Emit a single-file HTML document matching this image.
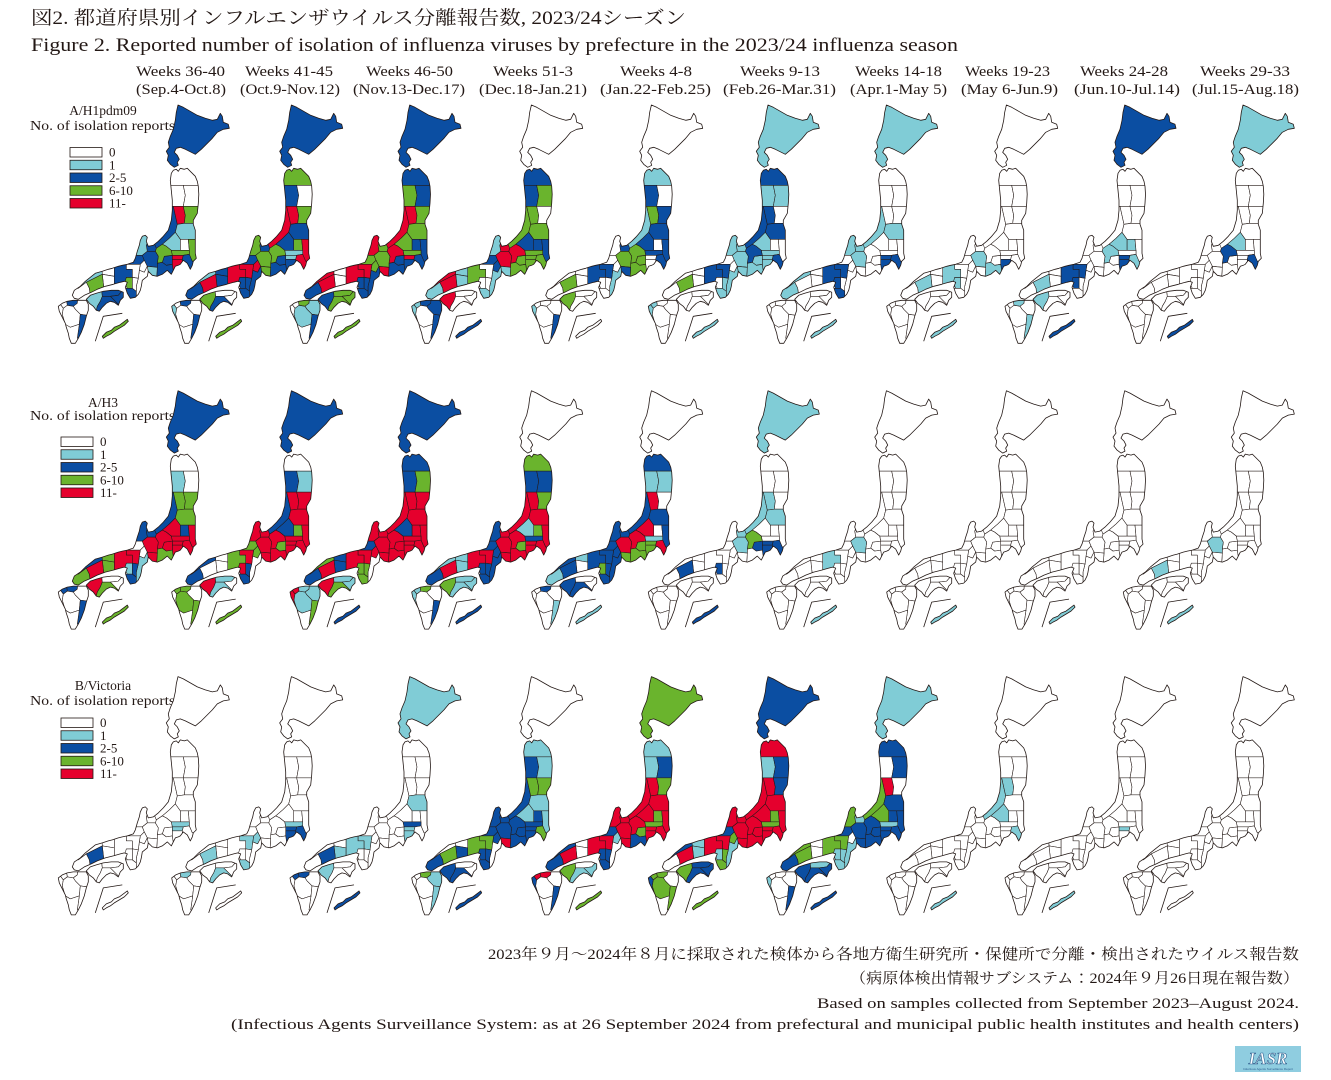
<!DOCTYPE html>
<html><head><meta charset="utf-8">
<style>
html,body{margin:0;padding:0;background:#fff;width:1331px;height:1080px;overflow:hidden}
svg{display:block}
.c{stroke:#231815;stroke-width:0.55;stroke-linejoin:round}
.o{fill:none;stroke:#231815;stroke-width:0.8;stroke-linejoin:round}
.t{font-family:"Liberation Serif","Noto Serif CJK JP",serif;fill:#231815}
.j{font-family:"Liberation Serif","Noto Serif CJK JP","Noto Serif CJK SC",serif;fill:#231815}
</style></head><body>
<svg id="s" width="1331" height="1080" viewBox="0 0 1331 1080" xmlns="http://www.w3.org/2000/svg">
<rect width="1331" height="1080" fill="#fff"/>
<defs id="d"></defs>
<text class="j" x="31" y="24" font-size="19" textLength="655" lengthAdjust="spacingAndGlyphs">図2. 都道府県別インフルエンザウイルス分離報告数, 2023/24シーズン</text>
<text class="t" x="31" y="51" font-size="19" textLength="927" lengthAdjust="spacingAndGlyphs">Figure 2. Reported number of isolation of influenza viruses by prefecture in the 2023/24 influenza season</text>
<g class="t" font-size="15">
<text x="136" y="76" textLength="89" lengthAdjust="spacingAndGlyphs">Weeks 36-40</text>
<text x="245" y="76" textLength="88" lengthAdjust="spacingAndGlyphs">Weeks 41-45</text>
<text x="366" y="76" textLength="87" lengthAdjust="spacingAndGlyphs">Weeks 46-50</text>
<text x="493" y="76" textLength="80" lengthAdjust="spacingAndGlyphs">Weeks 51-3</text>
<text x="620" y="76" textLength="72" lengthAdjust="spacingAndGlyphs">Weeks 4-8</text>
<text x="740" y="76" textLength="80" lengthAdjust="spacingAndGlyphs">Weeks 9-13</text>
<text x="855" y="76" textLength="87" lengthAdjust="spacingAndGlyphs">Weeks 14-18</text>
<text x="965" y="76" textLength="85" lengthAdjust="spacingAndGlyphs">Weeks 19-23</text>
<text x="1080" y="76" textLength="88" lengthAdjust="spacingAndGlyphs">Weeks 24-28</text>
<text x="1200" y="76" textLength="90" lengthAdjust="spacingAndGlyphs">Weeks 29-33</text>
<text x="136" y="94" textLength="90" lengthAdjust="spacingAndGlyphs">(Sep.4-Oct.8)</text>
<text x="240" y="94" textLength="100" lengthAdjust="spacingAndGlyphs">(Oct.9-Nov.12)</text>
<text x="353" y="94" textLength="112" lengthAdjust="spacingAndGlyphs">(Nov.13-Dec.17)</text>
<text x="479" y="94" textLength="108" lengthAdjust="spacingAndGlyphs">(Dec.18-Jan.21)</text>
<text x="600" y="94" textLength="111" lengthAdjust="spacingAndGlyphs">(Jan.22-Feb.25)</text>
<text x="723" y="94" textLength="113" lengthAdjust="spacingAndGlyphs">(Feb.26-Mar.31)</text>
<text x="850" y="94" textLength="97" lengthAdjust="spacingAndGlyphs">(Apr.1-May 5)</text>
<text x="961" y="94" textLength="97" lengthAdjust="spacingAndGlyphs">(May 6-Jun.9)</text>
<text x="1074" y="94" textLength="106" lengthAdjust="spacingAndGlyphs">(Jun.10-Jul.14)</text>
<text x="1192" y="94" textLength="107" lengthAdjust="spacingAndGlyphs">(Jul.15-Aug.18)</text>
</g>
<g class="t" font-size="13.5">
<text x="103" y="115" text-anchor="middle">A/H1pdm09</text>
<text x="30" y="130" textLength="145" lengthAdjust="spacingAndGlyphs">No. of isolation reports</text>
<text x="103" y="407" text-anchor="middle">A/H3</text>
<text x="30" y="420" textLength="145" lengthAdjust="spacingAndGlyphs">No. of isolation reports</text>
<text x="103" y="690" text-anchor="middle">B/Victoria</text>
<text x="30" y="705" textLength="145" lengthAdjust="spacingAndGlyphs">No. of isolation reports</text>
</g>
<g id="leg"></g>
<g id="maps"></g>
<g class="j" font-size="15">
<text x="488" y="959" textLength="811" lengthAdjust="spacingAndGlyphs">2023年９月～2024年８月に採取された検体から各地方衛生研究所・保健所で分離・検出されたウイルス報告数</text>
<text x="850" y="983" textLength="449" lengthAdjust="spacingAndGlyphs">（病原体検出情報サブシステム：2024年９月26日現在報告数）</text>
</g>
<g class="t" font-size="15">
<text x="817" y="1008" textLength="482" lengthAdjust="spacingAndGlyphs">Based on samples collected from September 2023–August 2024.</text>
<text x="231" y="1029" textLength="1068" lengthAdjust="spacingAndGlyphs">(Infectious Agents Surveillance System: as at 26 September 2024 from prefectural and municipal public health institutes and health centers)</text>
</g>
<rect x="1235" y="1046" width="66" height="26" fill="#8fcde0"/>
<text x="1268" y="1064" text-anchor="middle" font-family="Liberation Serif,serif" font-style="italic" font-weight="bold" font-size="17" fill="#ffffff" stroke="#2d5f8f" stroke-width="0.6">IASR</text>
<text x="1268" y="1070" text-anchor="middle" font-family="Liberation Sans,sans-serif" font-size="3" fill="#2d5f8f">Infectious Agents Surveillance Report</text>
</svg>
<script>
(function(){
var COL=['#ffffff','#80ccd6','#0b4ea2','#6ab42d','#e5002d'];
var HOKP="121.7,6.7 127,9 134,13 141,17 149,20 156,22 161,21 164,15 166,18 167,24 172,26 173,30 167,31 161,34 156,40 150,46 145,51 139,56 135,54 129,51 124,49 120,50 118,54 121,57 123,61 121,64 122,67 118,69 114,66 111,62 112,57 110,53 113,49 112,44 114,38 117,31 119,22 120,14";
var HON="115,75 117,72 120,71 122,73 124,70 128,71 131,70 134,73 139,78 141,83 142,88 142.5,96 142,105 141,115 137,122 137,126 139,132 139,140 139,148 139,155 140,160 137,163 136,167 134,171 131,165 127,162 124,166 122,167 119,168 117,172 115,176 113,174 111,172 106,176 101,178 96,177 92,173 91,178 86,182 85,188 84,192 82,196 79,199 74,200 71,195 69,189 71,184 68,183 64,184 57,186 49,188 41,191 35,194 28,197 22,201 18,200 16,197 18,192 24,188 29,183 34,179 39,175 46,173 52,171 56,170 62,168 66,167 71,166 74,165 77,164 79,160 81,153 83,147 84,142 86,138 89,137 91,139 90,143 92,148 97,147 102,143 107,138 112,132 115,122 116,112 116,102 115,92 114,82";
var SHK="30,201 34,197 40,195 47,193 55,192 62,192 67,194 67,199 64,202 62,207 58,204 54,203 50,205 46,209 43,213 40,212 37,208 33,205";
var KYU="2,208 6,205 11,203 17,202 24,202 30,202 32,206 32,212 30,218 28,226 25,234 22,240 19,245 15,245 13,240 12,235 10,229 9,225 7,221 5,217 3,213";
var OKI="46,238 50,234 55,232 58,229 63,227 67,224 71,221 72,223 68,227 63,230 58,233 54,236 50,238 47,240";
var HC={
AOM:"100,60 150,60 150,87 100,87",
AKI:"100,87 127,87 129,97 127,108 100,108",
IWA:"127,87 150,87 150,108 127,108 129,97",
NII:"100,108 117,108 119,117 121,126 119,134 113,140 106,146 100,150 95,145 90,140",
YAM:"117,108 127,108 129,117 128,125 121,126 119,117",
MIY:"127,108 150,108 150,125 128,125 129,117",
FUK:"121,126 128,125 150,125 150,141 132,141 124,141 119,134",
TOC:"124,141 132,141 133,152 124,152",
IBA:"132,141 150,141 150,162 136,163 133,156 133,152",
GUN:"113,140 119,134 124,141 124,152 115,152 110,148 106,146",
SAI:"115,152 124,152 133,152 133,156 127,157 116,157",
TOK:"116,157 127,157 126,161 116,161",
CHI:"127,157 133,156 136,163 150,162 150,180 126,180 126,161",
KAN:"116,161 126,161 126,180 118,180 116,166",
YMN:"108,158 116,157 116,166 110,167 106,164",
NAG:"100,150 106,146 110,148 115,152 116,157 108,158 106,164 101,165 102,158 99,153",
SHI:"101,165 106,164 110,167 116,166 118,180 100,185 101,169",
TOY:"90,147 92,142 96,140 100,150 99,153 91,153",
ISH:"78,130 93,130 92,142 90,147 91,153 86,157 78,157",
FKI:"70,157 86,157 88,162 84,166 70,166",
GIF:"91,153 99,153 102,158 101,165 101,169 91,168 88,162 86,157",
AIC:"91,168 101,169 100,185 90,185 92,174",
SHG:"84,166 88,162 91,168 88,174 83,172",
MIE:"83,172 88,174 91,168 92,174 90,185 92,205 80,205 80,188 82,180",
KYO:"70,166 84,166 83,172 82,180 76,179 76,171 70,171",
NAR:"76,179 82,180 80,188 80,193 76,190",
OSA:"70,179 76,179 76,190 71,190 68,184",
WAK:"62,190 71,190 76,190 80,193 80,205 62,205",
HYO:"58,160 70,160 70,171 76,171 76,179 70,179 68,186 58,192",
TOT:"45,160 58,160 58,178 46,176",
OKA:"46,176 58,178 58,195 48,195 47,185",
SHM:"10,160 45,160 46,176 38,180 30,184 22,190 10,190",
HIR:"38,180 46,176 47,185 48,195 34,198 33,190 30,184",
YMG:"5,190 22,190 30,184 33,190 34,198 5,205"
};
var SC={
EHI:"25,188 45,188 46,198 44,203 41,208 38,220 25,220",
KAG:"45,188 70,188 62,197 54,198 46,198",
TOKU:"54,198 62,197 70,188 75,188 75,215 62,206 58,202",
KOC:"46,198 54,198 58,202 62,206 75,215 30,225 38,220 41,208 44,203"
};
var KC={
FUO:"9,195 22,195 21,205 17,208 11,207",
OIT:"22,195 38,195 38,218 24,216 19,211 17,208 21,205",
SAG:"4,195 9,195 11,207 7,210 4,206",
NGS:"-5,195 4,195 4,206 7,210 6,216 9,226 -5,226",
KUM:"7,210 11,207 17,208 19,211 24,216 23,226 14,229 9,226 6,216",
MYZ:"24,216 38,218 38,250 21,240 23,226",
KGS:"-5,226 9,226 14,229 23,226 21,240 38,250 -5,250"
};
var D=[
["HOK2 MIY3 YAM4 FUK1 NII2 IBA3 GUN1 SAI3 CHI2 TOK4 KAN4 TOY2 ISH1 FKI2 YMN2 NAG3 GIF2 SHI2 AIC1 OSA3 HYO2 WAK2 SHM1 HIR3 TOKU2 KAG2 EHI1 KOC2 FUO2 MYZ2 OKI3",
"HOK2 AOM3 AKI2 MIY3 YAM4 FUK2 NII4 IBA4 TOC3 GUN2 SAI1 CHI4 TOK1 KAN2 TOY2 ISH3 FKI2 YMN2 NAG3 GIF3 SHI2 AIC3 MIE2 SHG4 KYO4 OSA2 HYO4 NAR2 WAK2 TOT2 SHM1 OKA2 HIR4 YMG2 EHI3 KOC2 FUO2 NGS1 MYZ2 OKI3",
"HOK2 AOM2 IWA2 AKI3 MIY3 YAM4 FUK3 NII4 IBA2 TOC2 GUN3 SAI3 CHI2 TOK4 KAN2 TOY3 ISH4 FKI3 YMN2 NAG4 GIF3 SHI2 AIC4 MIE2 SHG3 KYO4 OSA2 HYO4 NAR2 WAK2 SHM4 HIR4 YMG2 TOKU3 KAG3 EHI2 KOC3 FUO3 KUM1 OIT1 MYZ2 OKI3",
"AOM2 IWA3 AKI2 YAM3 FUK3 NII3 IBA2 TOC2 GUN2 SAI3 CHI3 TOK3 KAN3 TOY4 ISH1 FKI2 YMN3 NAG4 GIF4 SHI3 AIC1 MIE1 SHG2 HYO3 WAK1 TOT1 SHM4 OKA1 HIR4 YMG1 EHI4 FUO2 SAG1 NGS1 OIT2 MYZ2 OKI2",
"AOM1 AKI2 MIY2 YAM3 FUK2 NII1 IBA2 GUN2 SAI2 CHI2 TOY2 YMN3 NAG3 GIF3 SHI3 AIC2 MIE1 KYO2 HYO2 HIR3 EHI3 NGS1 MYZ2",
"HOK1 AOM2 IWA1 AKI1 YAM2 FUK2 NII2 GUN1 SAI1 CHI2 TOK1 KAN1 TOY1 ISH1 YMN1 NAG2 GIF1 SHI1 AIC1 MIE1 KYO2 HYO2 NAR1 WAK1 HIR3 SAG1 NGS1 OKI1",
"HOK1 NII1 FUK1 CHI2 TOK2 KAN2 TOY1 ISH1 GIF1 KYO2 OSA2 HYO2 WAK2 YMG1 SHM1 OKI1",
"GIF1 SHI1 KAN2 HYO1 OSA1 HIR1 OKI1",
"HOK2 NAG1 GUN1 TOC1 KAN2 TOK2 CHI1 HYO2 KYO2 OSA2 HIR1 EHI1 FUO1 MYZ1 OKI2",
"HOK1 NAG2 GUN1 CHI2 OKI2"],
["HOK2 AKI1 MIY3 YAM3 FUK3 NII2 IBA4 TOC2 GUN4 SAI4 CHI4 TOK4 KAN4 TOY2 ISH2 YMN4 NAG4 GIF4 SHI3 AIC4 MIE1 KYO4 OSA1 HYO4 NAR2 WAK2 TOT3 SHM2 OKA3 HIR4 YMG3 EHI4 KOC3 FUO2 SAG2 MYZ2 OKI3",
"HOK2 IWA1 AKI2 MIY4 YAM4 FUK4 NII2 IBA4 TOC3 GUN2 SAI4 CHI4 TOK4 KAN4 TOY4 ISH4 FKI3 YMN3 NAG4 GIF4 SHI4 AIC4 SHG3 KYO4 OSA4 HYO3 NAR2 WAK2 SHM2 YMG2 KAG1 EHI4 KOC1 FUO3 SAG3 KUM3 MYZ3 OKI3",
"HOK2 AOM2 IWA3 AKI2 MIY4 YAM4 FUK4 NII4 IBA4 TOC4 GUN2 SAI4 CHI4 TOK4 KAN4 TOY4 ISH4 FKI2 YMN4 NAG4 GIF4 SHI4 AIC4 SHG4 KYO4 OSA3 HYO4 NAR3 WAK3 TOT2 SHM3 OKA2 HIR4 YMG2 TOKU1 KAG1 EHI4 KOC3 FUO1 SAG4 NGS4 KUM1 OIT1 MYZ3 OKI2",
"AOM3 IWA2 AKI2 MIY3 YAM4 FUK4 NII4 IBA4 TOC3 GUN1 SAI2 CHI4 TOK4 KAN4 TOY4 ISH2 FKI2 YMN3 NAG4 GIF4 SHI4 AIC4 MIE2 SHG2 KYO4 OSA2 HYO4 NAR2 WAK2 TOT1 SHM1 OKA1 HIR4 YMG2 TOKU1 KAG1 EHI3 KOC1 FUO3 SAG1 NGS1 MYZ2 OKI2",
"AOM2 IWA1 AKI1 YAM4 FUK2 NII2 IBA2 GUN4 SAI1 CHI4 TOK3 KAN3 TOY2 ISH2 FKI2 YMN3 NAG4 GIF4 SHI3 AIC3 MIE2 SHG2 KYO2 OSA3 HYO2 NAR2 WAK2 TOT1 SHM2 HIR2 YMG1 EHI2 KOC2 FUO2 MYZ1 OKI1",
"HOK1 YAM1 FUK1 NII1 NAG3 YMN2 TOK2 KAN2 CHI2 GIF1 TOY1 HIR2 OSA2 OKI2",
"GIF1 HYO1 OKI1",
"OKI1",
"OKI1",
"GIF1 HIR1 OKI1"],
["TOK1 SAI1 HIR2",
"SAI1 TOK2 KAN2 CHI2 KYO1 SHG1 WAK1 HIR1 KOC1 FUO1",
"HOK1 FUK1 SAI2 TOK1 KAN1 HYO1 KYO1 HIR2 OKA1 EHI1 FUO2 SAG2 OKI2",
"AOM1 IWA1 AKI2 MIY3 YAM3 FUK1 NII2 IBA1 TOC2 GUN1 SAI2 CHI3 TOK2 KAN2 TOY2 ISH2 FKI2 YMN2 NAG2 GIF2 SHI2 AIC4 SHG2 KYO3 OSA2 HYO3 NAR2 WAK2 OKA2 HIR3 YMG2 EHI2 KOC2 FUO3 OIT1 MYZ1 OKI2",
"HOK3 AOM1 IWA2 AKI1 MIY3 YAM4 FUK4 NII4 IBA4 TOC3 GUN4 SAI3 CHI4 TOK4 KAN4 TOY4 ISH4 FKI2 YMN3 NAG4 GIF4 SHI2 AIC4 SHG1 KYO4 OSA2 HYO4 NAR2 WAK2 SHM2 HIR4 YMG2 TOKU1 EHI3 KOC1 FUO4 SAG4 NGS2 MYZ2 OKI3",
"HOK2 AOM4 IWA2 AKI1 MIY2 YAM4 FUK4 NII4 IBA4 TOC3 GUN4 SAI3 CHI4 TOK4 KAN4 TOY4 ISH4 FKI2 YMN4 NAG4 GIF4 SHI4 AIC4 MIE1 SHG3 KYO4 OSA1 HYO4 NAR3 WAK3 TOT1 SHM2 OKA1 HIR4 TOKU2 KAG2 EHI3 KOC2 FUO3 SAG3 NGS2 KUM3 MYZ3 OKI3",
"HOK1 AOM2 IWA2 YAM4 FUK2 NII3 IBA2 TOC2 GUN3 SAI1 CHI2 TOK2 KAN2 TOY1 ISH3 FKI2 YMN2 NAG2 GIF2 SHI2 AIC2 MIE1 KYO3 OSA1 HYO3 NAR1 WAK1 SHM3 HIR3 YMG2 TOKU2 KAG1 EHI2 KOC2 NGS1 MYZ2 OKI2",
"YAM1 NII1 GUN1 CHI1 OKI1",
"TOK1 OKI1",
""]
];
var OX=[56.3,169.7,288,409.7,529.7,646.3,764.7,884.7,1003,1121.3];
var OY=[98.3,384.1,669.9];
var defs='<clipPath id="cH"><polygon points="'+HON+'"/></clipPath><clipPath id="cS"><polygon points="'+SHK+'"/></clipPath><clipPath id="cK"><polygon points="'+KYU+'"/></clipPath>';
document.getElementById('d').innerHTML=defs;
function parse(s){var m={};s.trim().split(/\s+/).forEach(function(t){if(t){m[t.replace(/[0-9]/g,'')]=+t.replace(/[^0-9]/g,'');}});return m;}
function cells(obj,m){var o='';for(var k in obj){o+='<polygon class="c" points="'+obj[k]+'" fill="'+COL[m[k]||0]+'"/>';}return o;}
var out='';
for(var r=0;r<3;r++){for(var c=0;c<10;c++){
var m=parse(D[r][c]);
out+='<g transform="translate('+OX[c]+','+OY[r]+')">';
out+='<polygon class="c" points="'+HOKP+'" fill="'+COL[m.HOK||0]+'" style="stroke-width:0.8"/>';
out+='<g clip-path="url(#cH)">'+cells(HC,m)+'</g><polygon class="o" points="'+HON+'"/>';
out+='<g clip-path="url(#cS)">'+cells(SC,m)+'</g><polygon class="o" points="'+SHK+'"/>';
out+='<g clip-path="url(#cK)">'+cells(KC,m)+'</g><polygon class="o" points="'+KYU+'"/>';
out+='<polygon class="c" points="'+OKI+'" fill="'+COL[m.OKI||0]+'" style="stroke-width:0.8"/>';
out+='<polyline class="o" points="39,243 47,218 66,215"/>';
out+='</g>';
}}
document.getElementById('maps').innerHTML=out;
var labs=['0','1','2-5','6-10','11-'];
var L=[[70,147.5],[61,437],[61,718]];
var lg='';
for(var i=0;i<3;i++){for(var j=0;j<5;j++){var y=L[i][1]+j*12.75;
lg+='<rect x="'+L[i][0]+'" y="'+y+'" width="32" height="9.5" fill="'+COL[j]+'" stroke="#231815" stroke-width="0.8"/>';
lg+='<text class="t" font-size="13" x="'+(L[i][0]+39)+'" y="'+(y+9)+'">'+labs[j]+'</text>';}}
document.getElementById('leg').innerHTML=lg;
})();
</script>
</body></html>
